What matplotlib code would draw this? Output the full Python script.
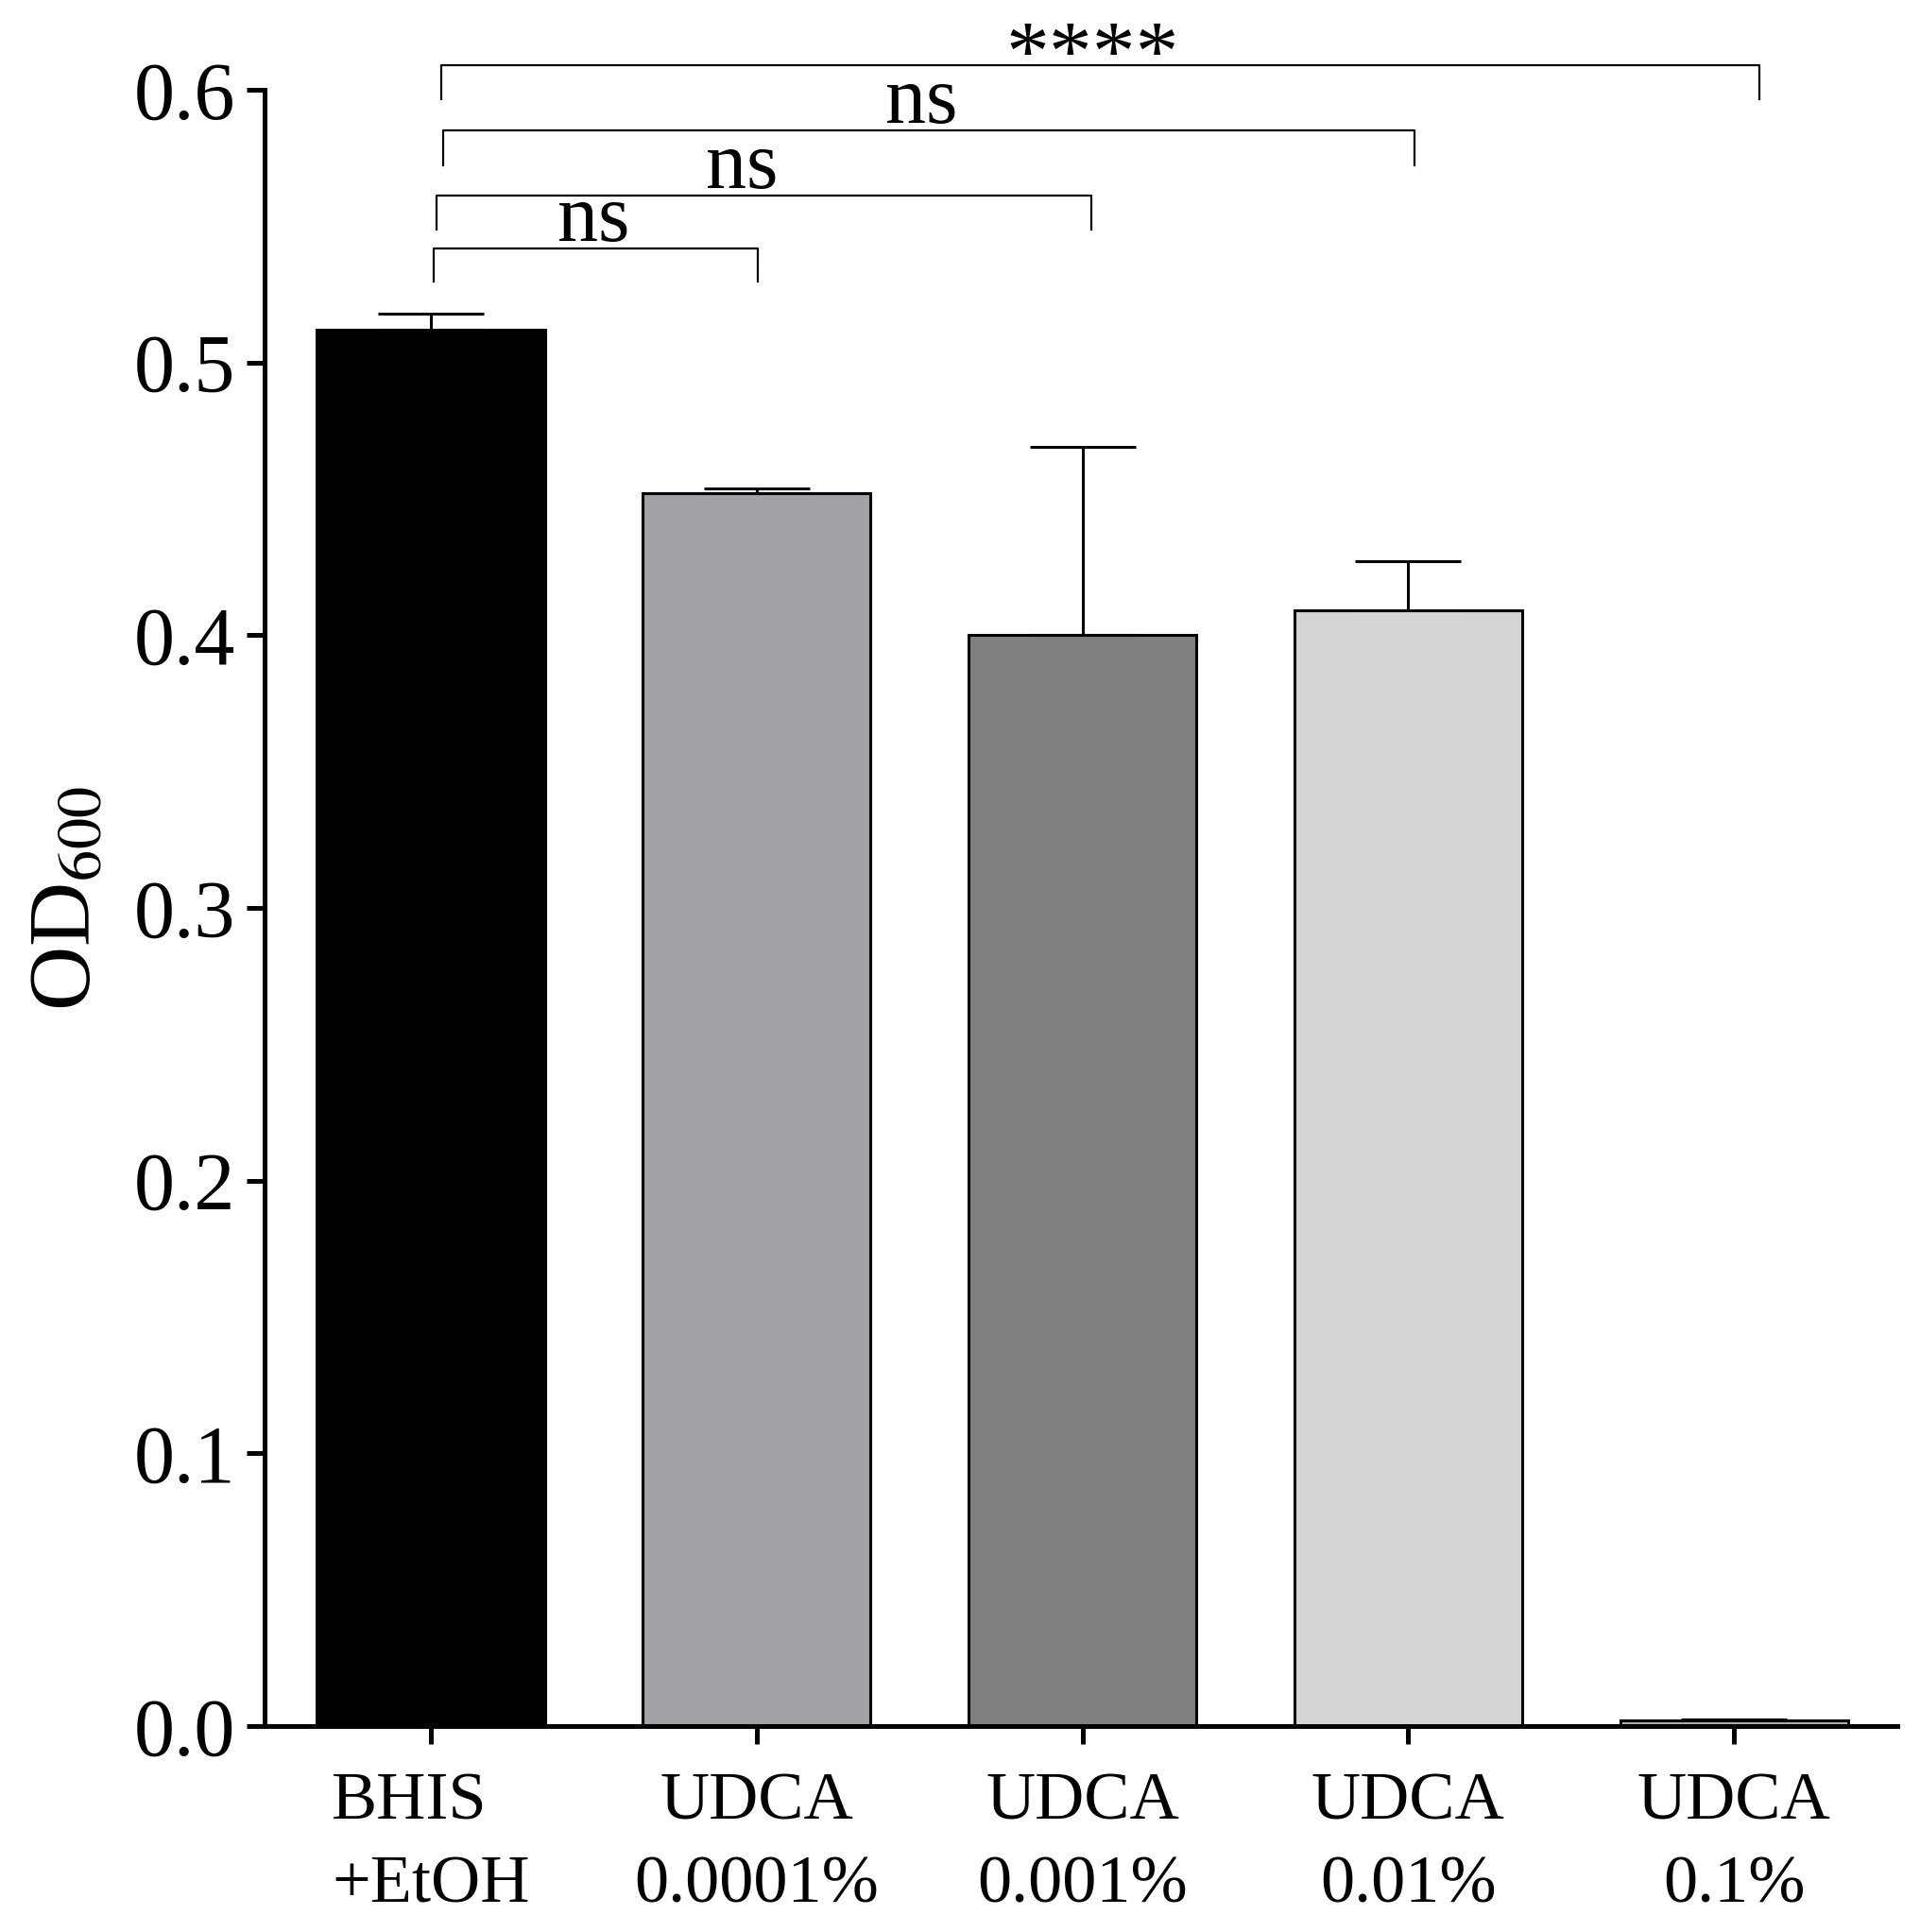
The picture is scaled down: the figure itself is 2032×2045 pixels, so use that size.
import matplotlib
matplotlib.use("Agg")
import matplotlib.pyplot as plt
import numpy as np

# OD600 growth in BHIS with UDCA
groups = ["BHIS\n+EtOH", "UDCA\n0.0001%", "UDCA\n0.001%", "UDCA\n0.01%", "UDCA\n0.1%"]
means = [0.512, 0.452, 0.400, 0.409, 0.002]
errors = [0.006, 0.002, 0.069, 0.018, 0.0005]
colors = ["#000000", "#a2a1a6", "#808080", "#d4d4d4", "#b0b0b0"]

# significance comparisons vs control: (label, bracket height, drop)
comparisons = [
    ("ns", 0.5417, 0.5296),
    ("ns", 0.5611, 0.5487),
    ("ns", 0.5850, 0.5722),
    ("****", 0.6089, 0.5964),
]
left_x = [0.009, 0.017, 0.038, 0.032]
right_x = [1.003, 2.026, 3.02, 4.078]
label_x = [0.501, 0.954, 1.506, 2.03]

plt.rcParams["font.family"] = ["Liberation Serif", "DejaVu Serif"]
plt.rcParams["mathtext.fontset"] = "stix"

fig = plt.figure(figsize=(20.32, 20.45), dpi=100)
ax = fig.add_axes([0.1378, 0.1066, 0.988 - 0.1378, 0.9535 - 0.1066])

x = np.arange(len(groups))
ax.bar(x, means, width=0.70, color=colors, edgecolor="black", linewidth=2.2, zorder=2)
ax.errorbar(x, means, yerr=[np.zeros(len(means)), errors], fmt="none",
            ecolor="black", elinewidth=2.2, capsize=40, capthick=2.2, zorder=3)

ax.set_xlim(-0.51, 4.50)
ax.set_ylim(0, 0.6)
ax.set_yticks(np.arange(0, 0.61, 0.1))
ax.set_yticklabels([f"{v:.1f}" for v in np.arange(0, 0.61, 0.1)])
ax.set_xticks(x)
ax.set_xticklabels(groups, fontsize=52, linespacing=1.45)
ax.get_xticklabels()[0].set_multialignment("left")
ax.tick_params(axis="y", labelsize=62, width=3.6, length=14, pad=8)
ax.tick_params(axis="x", width=3.6, length=14, pad=21)

for side in ["top", "right"]:
    ax.spines[side].set_visible(False)
for side in ["left", "bottom"]:
    ax.spines[side].set_linewidth(3.6)

fig.text(72 / 2032, 0.535, r"OD$_{600}$", fontsize=68, rotation=90,
         ha="center", va="center")

for (label, top, drop), lx, rx, tx in zip(comparisons, left_x, right_x, label_x):
    ax.plot([lx, lx, rx, rx], [drop, top, top, drop], color="black",
            linewidth=1.6, clip_on=False)
    if label == "ns":
        ax.text(tx, top + 0.0028, label, fontsize=62,
                ha="center", va="baseline")
    else:
        ax.text(tx, 0.6035, label, fontsize=66,
                ha="center", va="baseline")

fig.savefig("out.png", dpi=100)
